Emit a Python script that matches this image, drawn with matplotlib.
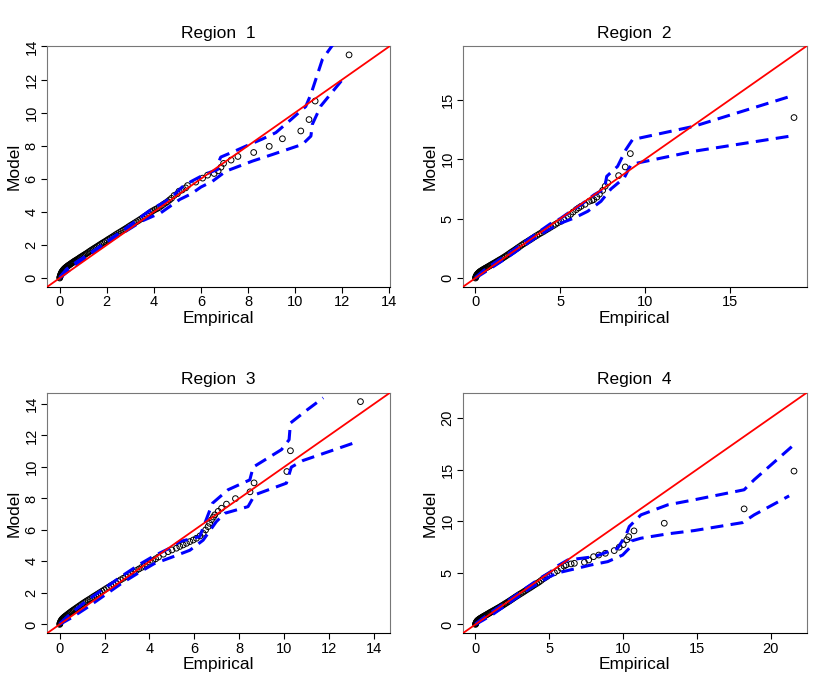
import numpy as np
import matplotlib
matplotlib.use("Agg")
from matplotlib import pyplot as plt

plt.rcParams['font.family'] = ['Liberation Sans', 'DejaVu Sans']

titles = ['Region  1', 'Region  2', 'Region  3', 'Region  4']

# Region 1: quantile pairs, dense body then the sparse upper tail
x1_body = [0.00, 0.01, 0.02, 0.03, 0.04, 0.055, 0.07, 0.085, 0.10, 0.12,
           0.14, 0.16, 0.18, 0.205, 0.23, 0.255, 0.28, 0.31, 0.34, 0.37,
           0.40, 0.435, 0.47, 0.505, 0.54, 0.58, 0.62, 0.66, 0.70, 0.745,
           0.79, 0.835, 0.88, 0.93, 0.98, 1.03, 1.08, 1.135, 1.19, 1.245,
           1.30, 1.36, 1.42, 1.48, 1.54, 1.605, 1.67, 1.735, 1.80, 1.87,
           1.94, 2.01, 2.08, 2.155, 2.23, 2.305, 2.38, 2.455, 2.53, 2.61,
           2.69, 2.77, 2.85, 2.93, 3.01, 3.095, 3.18, 3.265, 3.35, 3.435,
           3.52, 3.61, 3.70, 3.79, 3.88, 3.965, 4.05, 4.135, 4.22, 4.31,
           4.40, 4.49, 4.58, 4.665, 4.75]
y1_body = [0.00, 0.05, 0.10, 0.15, 0.20, 0.25, 0.30, 0.34, 0.38, 0.42,
           0.46, 0.495, 0.53, 0.565, 0.60, 0.63, 0.66, 0.695, 0.73, 0.76,
           0.79, 0.825, 0.86, 0.895, 0.93, 0.97, 1.01, 1.045, 1.08, 1.12,
           1.16, 1.205, 1.25, 1.295, 1.34, 1.385, 1.43, 1.48, 1.53, 1.585,
           1.64, 1.695, 1.75, 1.805, 1.86, 1.92, 1.98, 2.04, 2.10, 2.16,
           2.22, 2.285, 2.35, 2.415, 2.48, 2.55, 2.62, 2.685, 2.75, 2.82,
           2.89, 2.96, 3.03, 3.105, 3.18, 3.255, 3.33, 3.405, 3.48, 3.56,
           3.64, 3.73, 3.82, 3.91, 4.00, 4.07, 4.14, 4.20, 4.26, 4.355,
           4.45, 4.535, 4.62, 4.72, 4.82]
x1_tail = [4.86, 5.00, 5.07, 5.20, 5.35, 5.43, 5.78, 6.07, 6.28, 6.56, 6.73, 6.85, 6.96, 7.28,
           7.57, 8.24, 8.90, 9.46, 10.24, 10.59, 10.85, 12.29]
y1_tail = [4.99, 5.10, 5.25, 5.32, 5.45, 5.59, 5.80, 6.04, 6.22, 6.32, 6.48, 6.70, 6.93, 7.13,
           7.35, 7.59, 7.96, 8.42, 8.89, 9.58, 10.70, 13.49]
# Region 1 envelope
x1_up = [0.0, 0.3, 0.8, 1.5, 2.2, 3.0, 3.6, 4.0, 4.4, 4.8, 5.2, 5.6, 6.0, 6.4, 6.7, 6.77, 6.84,
         7.4, 7.98, 8.6, 9.18, 9.8, 10.45, 10.67, 11.16, 11.7]
y1_up = [0.05, 0.55, 1.05, 1.7, 2.4, 3.2, 3.85, 4.25, 4.55, 4.95, 5.5, 5.85, 6.15, 6.40, 6.55,
         7.07, 7.31, 7.65, 8.02, 8.40, 8.79, 9.55, 10.37, 11.11, 13.23, 14.3]
x1_lo = [0.0, 0.3, 0.8, 1.5, 2.2, 3.0, 3.5, 3.9, 4.3, 4.7, 5.1, 5.6, 6.0, 6.49, 7.06, 8.19, 9.04,
         10.31, 10.67, 10.73, 11.09, 12.08]
y1_lo = [0.0, 0.35, 0.9, 1.6, 2.3, 3.0, 3.45, 3.7, 3.95, 4.35, 4.75, 5.1, 5.5, 5.85, 6.46, 7.07,
         7.47, 8.08, 8.58, 9.29, 10.4, 12.12]

# Region 2
x2_body = [0.00, 0.015, 0.03, 0.05, 0.07, 0.095, 0.12, 0.15, 0.18, 0.215,
           0.25, 0.29, 0.33, 0.375, 0.42, 0.47, 0.52, 0.575, 0.63, 0.69,
           0.75, 0.815, 0.88, 0.95, 1.02, 1.095, 1.17, 1.25, 1.33, 1.415,
           1.50, 1.59, 1.68, 1.775, 1.87, 1.97, 2.07, 2.175, 2.28, 2.39,
           2.50, 2.615, 2.73, 2.85, 2.97, 3.095, 3.22, 3.35, 3.48, 3.615,
           3.75, 3.885, 4.02, 4.16, 4.30, 4.44, 4.58, 4.715, 4.85]
y2_body = [0.00, 0.06, 0.12, 0.18, 0.24, 0.29, 0.34, 0.385, 0.43, 0.475,
           0.52, 0.56, 0.60, 0.64, 0.68, 0.725, 0.77, 0.815, 0.86, 0.91,
           0.96, 1.015, 1.07, 1.13, 1.19, 1.25, 1.31, 1.38, 1.45, 1.52,
           1.59, 1.67, 1.75, 1.84, 1.93, 2.03, 2.13, 2.23, 2.33, 2.44,
           2.55, 2.66, 2.78, 2.89, 3.00, 3.11, 3.22, 3.34, 3.46, 3.58,
           3.70, 3.81, 3.92, 4.04, 4.16, 4.28, 4.40, 4.52, 4.64]
x2_tail = [5.04, 5.20, 5.44, 5.60, 5.75, 5.93, 6.08, 6.22, 6.45, 6.70, 6.85, 6.96, 7.15, 7.30,
           7.49, 7.64, 7.79, 8.43, 8.82, 9.12, 18.76]
y2_tail = [4.77, 4.95, 5.19, 5.35, 5.55, 5.75, 5.90, 6.03, 6.20, 6.45, 6.52, 6.59, 6.80, 7.05,
           7.37, 7.72, 8.00, 8.61, 9.34, 10.46, 13.49]
x2_up = [0.0, 0.5, 1.2, 2.0, 2.8, 3.6, 4.4, 5.0, 5.6, 6.22, 7.0, 7.59, 7.73, 8.37, 8.86, 9.25,
         12.88, 18.47]
y2_up = [0.05, 0.65, 1.35, 2.1, 2.95, 3.75, 4.55, 5.0, 5.6, 6.17, 7.01, 7.49, 8.55, 9.39, 10.8,
         11.64, 12.76, 15.24]
x2_lo = [0.0, 0.5, 1.2, 2.0, 2.8, 3.6, 4.4, 5.0, 5.82, 6.61, 7.39, 7.98, 8.76, 9.16, 9.74,
         12.88, 18.76]
y2_lo = [0.0, 0.45, 1.1, 1.85, 2.65, 3.45, 4.15, 4.6, 5.05, 5.61, 6.45, 7.49, 8.42, 9.54, 9.73,
         10.66, 11.98]

# Region 3
x3_body = [0.00, 0.01, 0.02, 0.035, 0.05, 0.07, 0.09, 0.115, 0.14, 0.17,
           0.20, 0.235, 0.27, 0.31, 0.35, 0.395, 0.44, 0.49, 0.54, 0.595,
           0.65, 0.71, 0.77, 0.835, 0.90, 0.97, 1.04, 1.115, 1.19, 1.27,
           1.35, 1.435, 1.52, 1.61, 1.70, 1.795, 1.89, 1.985, 2.08, 2.18,
           2.28, 2.385, 2.49, 2.60, 2.71, 2.825, 2.94, 3.055, 3.17, 3.29,
           3.41, 3.53, 3.65, 3.775, 3.90, 4.025, 4.15, 4.275, 4.40]
y3_body = [0.00, 0.05, 0.10, 0.15, 0.20, 0.25, 0.30, 0.34, 0.38, 0.42,
           0.46, 0.50, 0.54, 0.585, 0.63, 0.68, 0.73, 0.785, 0.84, 0.895,
           0.95, 1.01, 1.07, 1.135, 1.20, 1.27, 1.34, 1.41, 1.48, 1.55,
           1.62, 1.70, 1.78, 1.86, 1.94, 2.025, 2.11, 2.195, 2.28, 2.37,
           2.46, 2.55, 2.64, 2.735, 2.83, 2.925, 3.02, 3.12, 3.22, 3.32,
           3.42, 3.52, 3.62, 3.73, 3.84, 3.945, 4.05, 4.165, 4.28]
x3_tail = [4.62, 4.83, 5.00, 5.20, 5.35, 5.50, 5.65, 5.80, 5.95, 6.09, 6.25, 6.39, 6.50, 6.61,
           6.68, 6.76, 6.85, 6.91, 7.06, 7.21, 7.43, 7.83, 8.48, 8.66, 10.12, 10.28, 13.40]
y3_tail = [4.46, 4.62, 4.73, 4.84, 4.95, 5.05, 5.15, 5.26, 5.36, 5.47, 5.62, 5.79, 6.00, 6.21,
           6.42, 6.64, 6.82, 6.96, 7.18, 7.38, 7.64, 7.99, 8.42, 8.99, 9.71, 11.03, 14.15]
x3_up = [0.0, 0.5, 1.2, 2.0, 2.8, 3.6, 4.2, 4.9, 5.35, 6.24, 6.61, 6.81, 7.50, 8.47, 8.62, 9.88,
         10.22, 10.28, 11.0, 11.74]
y3_up = [0.05, 0.7, 1.5, 2.3, 3.1, 3.85, 4.35, 4.84, 5.26, 5.58, 6.96, 7.70, 8.55, 9.18, 9.99,
         11.1, 11.73, 12.79, 13.6, 14.39]
x3_lo = [0.0, 0.5, 1.2, 2.0, 2.8, 3.6, 4.2, 5.05, 5.80, 6.39, 6.98, 7.36, 8.39, 8.69, 10.1,
         10.32, 10.84, 13.3]
y3_lo = [0.0, 0.4, 1.05, 1.85, 2.65, 3.35, 3.85, 4.30, 4.71, 5.35, 6.53, 7.06, 7.48, 8.23, 8.97,
         9.99, 10.41, 11.62]

# Region 4
x4_body = [0.00, 0.015, 0.03, 0.05, 0.07, 0.095, 0.12, 0.15, 0.18, 0.215,
           0.25, 0.29, 0.33, 0.375, 0.42, 0.47, 0.52, 0.575, 0.63, 0.69,
           0.75, 0.815, 0.88, 0.95, 1.02, 1.095, 1.17, 1.25, 1.33, 1.415,
           1.50, 1.59, 1.68, 1.775, 1.87, 1.97, 2.07, 2.175, 2.28, 2.39,
           2.50, 2.615, 2.73, 2.85, 2.97, 3.095, 3.22, 3.35, 3.48, 3.615,
           3.75, 3.885, 4.02, 4.16, 4.30, 4.44, 4.58, 4.715, 4.85]
y4_body = [0.00, 0.06, 0.12, 0.18, 0.24, 0.29, 0.34, 0.38, 0.42, 0.46,
           0.50, 0.54, 0.58, 0.62, 0.66, 0.705, 0.75, 0.795, 0.84, 0.89,
           0.94, 0.995, 1.05, 1.11, 1.17, 1.23, 1.29, 1.355, 1.42, 1.49,
           1.56, 1.635, 1.71, 1.795, 1.88, 1.97, 2.06, 2.155, 2.25, 2.355,
           2.46, 2.57, 2.68, 2.79, 2.90, 3.01, 3.12, 3.24, 3.36, 3.48,
           3.60, 3.725, 3.85, 3.975, 4.10, 4.25, 4.40, 4.525, 4.65]
x4_tail = [5.00, 5.35, 5.55, 5.80, 6.00, 6.14, 6.48, 6.70, 7.38, 7.67, 8.00, 8.35, 8.80, 9.40,
           9.74, 10.01, 10.25, 10.38, 10.74, 12.79, 18.20, 21.58]
y4_tail = [4.80, 5.01, 5.20, 5.44, 5.65, 5.76, 5.86, 5.92, 6.02, 6.24, 6.56, 6.72, 6.89, 7.15,
           7.48, 7.73, 8.20, 8.50, 9.06, 9.80, 11.19, 14.85]
x4_up = [0.0, 0.5, 1.2, 2.0, 2.8, 3.6, 4.4, 5.0, 5.6, 6.25, 8.05, 9.63, 10.2, 10.42, 11.21,
         13.02, 14.82, 18.2, 18.88, 21.58]
y4_up = [0.05, 0.6, 1.3, 2.1, 2.9, 3.7, 4.5, 5.0, 5.7, 6.24, 6.56, 7.38, 8.67, 9.48, 10.61,
         11.58, 12.07, 13.04, 14.01, 17.41]
x4_lo = [0.0, 0.5, 1.2, 2.0, 2.8, 3.6, 4.4, 5.0, 5.6, 6.70, 7.83, 8.96, 9.97, 10.42, 10.58,
         11.21, 13.02, 14.82, 18.09, 18.88, 21.25]
y4_lo = [0.0, 0.4, 1.0, 1.8, 2.6, 3.4, 4.1, 4.6, 5.0, 5.37, 5.76, 6.08, 6.72, 7.38, 8.09, 8.35,
         8.77, 9.09, 9.86, 10.61, 12.45]

points = [(x1_body + x1_tail, y1_body + y1_tail), (x2_body + x2_tail, y2_body + y2_tail),
          (x3_body + x3_tail, y3_body + y3_tail), (x4_body + x4_tail, y4_body + y4_tail)]
bands = [(x1_up, y1_up, x1_lo, y1_lo), (x2_up, y2_up, x2_lo, y2_lo),
         (x3_up, y3_up, x3_lo, y3_lo), (x4_up, y4_up, x4_lo, y4_lo)]
ticks = [np.arange(0, 15, 2), np.arange(0, 20, 5), np.arange(0, 15, 2), np.arange(0, 25, 5)]

fig = plt.figure(figsize=(8.3, 6.92), dpi=100)
# axes boxes in figure fractions
boxes = [[0.0566, 0.5853, 0.4133, 0.3483], [0.5575, 0.5853, 0.4145, 0.3483],
         [0.0566, 0.0848, 0.4133, 0.3477], [0.5575, 0.0848, 0.4145, 0.3477]]

for i in range(4):
    ax = fig.add_axes(boxes[i])
    px, py = points[i]
    ax.scatter(px, py, s=17, facecolors='none', edgecolors='black', linewidths=0.7, zorder=2)
    xu, yu, xl, yl = bands[i]
    for bx, by in [(xu, yu), (xl, yl)]:
        ax.plot(bx, by, color='blue', lw=2.2, linestyle=(0, (4.2, 2.4)), zorder=3)
    ax.axline((0, 0), slope=1, color='red', lw=1.3, zorder=4)

    hi = max(max(px), max(py))
    pad = 0.04 * hi
    ax.set_xlim(-pad, hi + pad)
    ax.set_ylim(-pad, hi + pad)
    ax.set_xticks(ticks[i])
    ax.set_yticks(ticks[i])
    ax.tick_params(axis='both', direction='out', length=4, width=0.8, labelsize=10.5, pad=2)
    for lab in ax.get_yticklabels():
        lab.set_rotation(90)
        lab.set_va('center')
    for s in ['left', 'right', 'top']:
        ax.spines[s].set_color('#777777')
    ax.spines['bottom'].set_color('black')
    ax.set_title(titles[i], fontsize=12.5, pad=6)
    ax.set_xlabel('Empirical', fontsize=12.5, labelpad=1)
    ax.set_ylabel('Model', fontsize=12.5, labelpad=2)

plt.savefig('out.png', dpi=100)
